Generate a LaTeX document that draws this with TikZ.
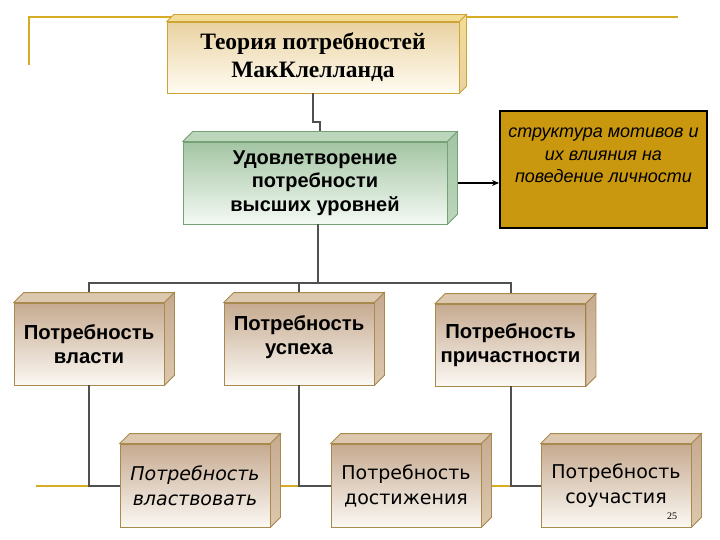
\documentclass[tikz,border=0pt]{standalone}
\usepackage{fontspec}
\setmainfont{Liberation Sans}
\newfontfamily\titlefont{Liberation Serif}
\newfontfamily\boxfont{DejaVu Sans}
\usetikzlibrary{arrows.meta,positioning}

\definecolor{goldline}{HTML}{D6AC24}
\definecolor{conngray}{HTML}{505050}
\definecolor{tantop}{HTML}{C6AA90}
\definecolor{tanbot}{HTML}{FBF8F3}
\definecolor{tanedge}{HTML}{A88A4E}
\definecolor{tanlid}{HTML}{DCC8AE}
\definecolor{titletop}{HTML}{E9D2A2}
\definecolor{titlebot}{HTML}{FFFCF2}
\definecolor{titleedge}{HTML}{CDA436}
\definecolor{titlelid}{HTML}{F2DC96}
\definecolor{greentop}{HTML}{A3C5A3}
\definecolor{greenbot}{HTML}{F4F9F4}
\definecolor{greenedge}{HTML}{76A076}
\definecolor{greenlid}{HTML}{BCD6BC}
\definecolor{structfill}{HTML}{CA980E}

\tikzset{
  needbox/.style={draw=tanedge, line width=0.8pt, top color=tantop, bottom color=tanbot,
    minimum width=150pt, minimum height=82pt, inner sep=0pt, align=center},
  conn/.style={draw=conngray, line width=2pt},
}

\begin{document}
\begin{tikzpicture}[x=1pt,y=-1pt]
\useasboundingbox (0,0) rectangle (720,540);

% Gold frame lines
\draw[goldline, line width=2pt] (29,65) -- (29,17) -- (678,17);
\draw[goldline, line width=2.4pt] (36,486) -- (690,486);

% Top of the tree
\node[draw=titleedge, line width=0.8pt, top color=titletop, bottom color=titlebot,
      minimum width=292pt, minimum height=71pt, inner sep=0pt, align=center,
      font=\titlefont\bfseries\fontsize{23.5}{28}\selectfont] (theory) at (313,57.5)
      {Теория потребностей\\МакКлелланда};
\node[draw=greenedge, line width=0.8pt, top color=greentop, bottom color=greenbot,
      minimum width=264pt, minimum height=82pt, inner sep=0pt, align=center,
      font=\bfseries\fontsize{20}{23.5}\selectfont] (higher) at (315,183)
      {Удовлетворение\\потребности\\высших уровней};
\node[draw=black, line width=2pt, fill=structfill, minimum width=207pt,
      minimum height=117pt, inner sep=0pt] (motives) at (603.5,169.5) {};
\node[align=center, font=\itshape\fontsize{18}{22.5}\selectfont] (motivestext)
      at ([yshift=14pt]motives.center)
      {структура мотивов и\\их влияния на\\поведение личности};

% Second row
\node[needbox, font=\bfseries\fontsize{20.3}{23.5}\selectfont] (power) at (89,344)
      {Потребность\\власти};
\node[needbox] (success) at (299,344) {};
\node[font=\bfseries\fontsize{20.3}{23.5}\selectfont, align=center] (successtext)
      at ([yshift=7pt]success.center) {Потребность\\успеха};
\node[needbox, font=\bfseries\fontsize{20.3}{23.5}\selectfont] (affil) at (510.5,345)
      {Потребность\\причастности};

% Third row
\node[needbox, minimum height=83pt, font=\boxfont\itshape\fontsize{19}{25}\selectfont]
      (rule) at (195,485.5) {Потребность\\властвовать};
\node[needbox, minimum height=83pt, font=\boxfont\fontsize{19}{25}\selectfont]
      (achieve) at (406,485.5) {Потребность\\достижения};
\node[needbox, minimum height=83pt, font=\boxfont\fontsize{19}{25}\selectfont]
      (share) at (616,485.5) {Потребность\\соучастия};

% Connectors
\draw[conn] (theory.south) -- ++(0,29) -| ([xshift=5pt]higher.north);
\draw[conn] ([xshift=3pt]higher.south) -- ++(0,59) coordinate (split);
\draw[conn] (power.north) |- (split) -| (affil.north);
\draw[conn] (split) -| (success.north);
\draw[conn] (power.south) |- (rule.west);
\draw[conn] (success.south) |- (achieve.west);
\draw[conn] (affil.south) |- (share.west);
\draw[line width=1.3pt, ->, >={Stealth[length=7pt,width=6pt]}]
      ([xshift=10pt]higher.east) -- (higher.east -| motives.west);

% Depth faces of the boxes
\filldraw[fill=titlelid, draw=titleedge, line width=0.8pt] (theory.north west) -- ++(7,-7)
      -- ([shift={(7,-7)}]theory.north east) -- (theory.north east) -- cycle;
\filldraw[top color=titlelid, bottom color=titletop, draw=titleedge, line width=0.8pt]
      (theory.north east) -- ++(7,-7) -- ([shift={(7,-7)}]theory.south east)
      -- (theory.south east) -- cycle;
\filldraw[fill=greenlid, draw=greenedge, line width=0.8pt] (higher.north west) -- ++(10,-10)
      -- ([shift={(10,-10)}]higher.north east) -- (higher.north east) -- cycle;
\filldraw[top color=greentop, bottom color=greenlid, draw=greenedge, line width=0.8pt]
      (higher.north east) -- ++(10,-10) -- ([shift={(10,-10)}]higher.south east)
      -- (higher.south east) -- cycle;
\foreach \n in {power,success,affil,rule,achieve,share} {
  \filldraw[fill=tanlid, draw=tanedge, line width=0.8pt] (\n.north west) -- ++(10,-10)
        -- ([shift={(10,-10)}]\n.north east) -- (\n.north east) -- cycle;
  \filldraw[top color=tantop, bottom color=tanlid, draw=tanedge, line width=0.8pt]
        (\n.north east) -- ++(10,-10) -- ([shift={(10,-10)}]\n.south east)
        -- (\n.south east) -- cycle;
}

\node[font=\titlefont\fontsize{10}{12}\selectfont] (pagenum) at (672,516) {25};
\end{tikzpicture}
\end{document}
